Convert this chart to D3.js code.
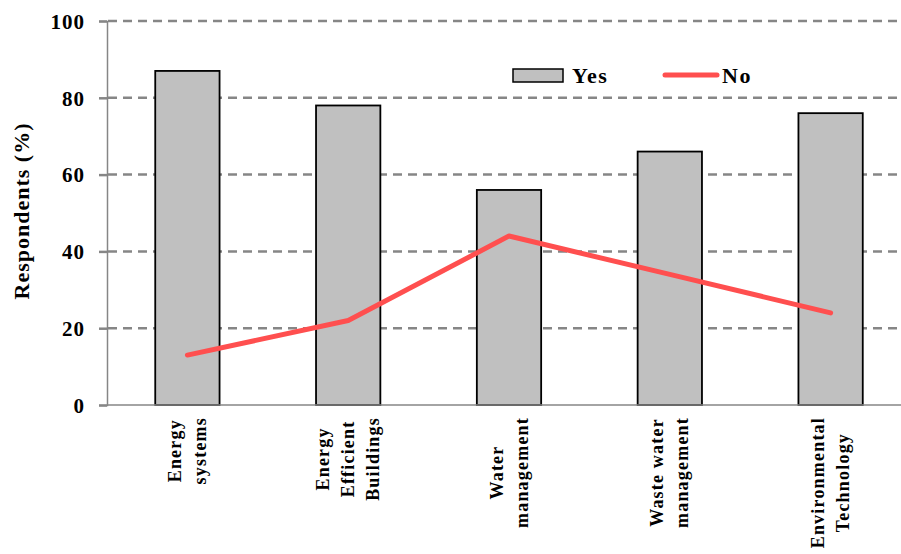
<!DOCTYPE html>
<html>
<head>
<meta charset="utf-8">
<script src="https://cdn.jsdelivr.net/npm/d3@7"></script>
<style>
  body { margin: 0; background: #fff; }
</style>
</head>
<body>
<div id="container"></div>
<script>
// data
const categories = [
  ["Energy", "systems"],
  ["Energy", "Efficient", "Buildings"],
  ["Water", "management"],
  ["Waste water", "management"],
  ["Environmental", "Technology"]
];
const yesValues = [87, 78, 56, 66, 76];
const noValues = [13, 22, 44, 34, 24];
const yTicks = [0, 20, 40, 60, 80, 100];

const FONT = "'Liberation Serif', 'Times New Roman', serif";
const width = 901, height = 554;
const plot = { left: 107, right: 911, top: 21, bottom: 405 };

const svg = d3.select("#container").append("svg")
  .attr("width", width)
  .attr("height", height);

const keys = categories.map((c, i) => i);

const x = d3.scaleBand()
  .domain(keys)
  .range([plot.left, plot.right])
  .paddingInner(0.6)
  .paddingOuter(0.3);

const y = d3.scaleLinear()
  .domain([0, 100])
  .range([plot.bottom, plot.top]);

// dashed gridlines (behind bars)
svg.append("g")
  .selectAll("line")
  .data(yTicks.filter(d => d > 0))
  .join("line")
  .attr("x1", plot.left + 1)
  .attr("x2", plot.right)
  .attr("y1", d => y(d))
  .attr("y2", d => y(d))
  .attr("stroke", "#868686")
  .attr("stroke-width", 2.5)
  .attr("stroke-dasharray", "9,6");

// bars
svg.append("g")
  .selectAll("rect")
  .data(yesValues)
  .join("rect")
  .attr("x", (d, i) => x(i))
  .attr("width", x.bandwidth())
  .attr("y", d => y(d))
  .attr("height", d => y(0) - y(d))
  .attr("fill", "#c0c0c0")
  .attr("stroke", "#000")
  .attr("stroke-width", 1.8);

// y axis
const yAxis = svg.append("g")
  .attr("transform", `translate(${plot.left},0)`)
  .call(d3.axisLeft(y).tickValues(yTicks).tickSize(8).tickPadding(14));
yAxis.attr("font-family", null).attr("font-size", null);
yAxis.select(".domain").attr("stroke", "#868686").attr("stroke-width", 1.5);
yAxis.selectAll(".tick line").attr("stroke", "#868686").attr("stroke-width", 2.5);
yAxis.selectAll(".tick text")
  .attr("fill", "#000")
  .style("font-family", FONT)
  .style("font-weight", "bold")
  .style("font-size", "21px")
  .style("letter-spacing", "1px")
  .attr("dy", "0.35em");

// x axis baseline
svg.append("line")
  .attr("x1", plot.left)
  .attr("x2", plot.right)
  .attr("y1", y(0))
  .attr("y2", y(0))
  .attr("stroke", "#868686")
  .attr("stroke-width", 1.5);

// "No" line
const line = d3.line()
  .x((d, i) => x(i) + x.bandwidth() / 2)
  .y(d => y(d));

svg.append("path")
  .datum(noValues)
  .attr("d", line)
  .attr("fill", "none")
  .attr("stroke", "#ff4f4f")
  .attr("stroke-width", 5)
  .attr("stroke-linecap", "round")
  .attr("stroke-linejoin", "round");

// category labels, rotated
const labelTop = 417;
const lineGap = 25;
categories.forEach((lines, i) => {
  const cx = x(i) + x.bandwidth() / 2;
  const g = svg.append("g").attr("transform", `translate(${cx},0) rotate(-90)`);
  const texts = g.selectAll("text")
    .data(lines)
    .join("text")
    .attr("text-anchor", "middle")
    .attr("y", (d, j) => (j - (lines.length - 1) / 2) * lineGap + 6)
    .style("font-family", FONT)
    .style("font-weight", "bold")
    .style("font-size", "18px")
    .style("letter-spacing", "1.2px")
    .text(d => d);
  let maxLen = 0;
  texts.each(function () { maxLen = Math.max(maxLen, this.getComputedTextLength()); });
  texts.attr("x", -(labelTop + maxLen / 2));
});

// y axis title
svg.append("text")
  .attr("transform", "translate(29,211) rotate(-90)")
  .attr("text-anchor", "middle")
  .style("font-family", FONT)
  .style("font-weight", "bold")
  .style("font-size", "22px")
  .style("letter-spacing", "1px")
  .text("Respondents (%)");

// legend
const legend = svg.append("g");
legend.append("rect")
  .attr("x", 513).attr("y", 69)
  .attr("width", 50).attr("height", 13)
  .attr("fill", "#c0c0c0")
  .attr("stroke", "#000")
  .attr("stroke-width", 1.5);
legend.append("line")
  .attr("x1", 665).attr("x2", 717)
  .attr("y1", 75).attr("y2", 75)
  .attr("stroke", "#ff4f4f")
  .attr("stroke-width", 5)
  .attr("stroke-linecap", "round");
legend.selectAll("text")
  .data([["Yes", 572], ["No", 722]])
  .join("text")
  .attr("x", d => d[1]).attr("y", 83)
  .style("font-family", FONT)
  .style("font-weight", "bold")
  .style("font-size", "22px")
  .style("letter-spacing", "1.5px")
  .text(d => d[0]);
</script>
</body>
</html>
